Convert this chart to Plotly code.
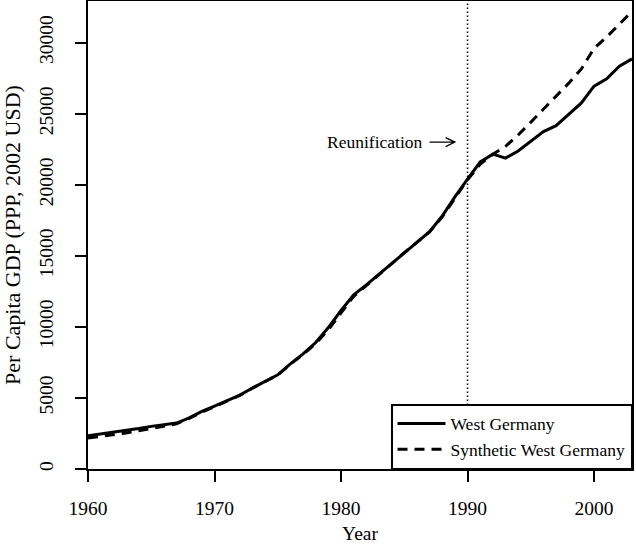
import plotly.graph_objects as go

# GDP per capita, West Germany vs. synthetic control
years = list(range(1960, 2004))

west_germany = [
    2340, 2460, 2580, 2700, 2850, 3000, 3130, 3235, 3600, 4050,
    4420, 4800, 5200, 5700, 6150, 6630, 7400, 8100, 8900, 9950,
    11150, 12250, 12950, 13700, 14450, 15250, 15980, 16700, 17800, 19150,
    20400, 21602, 22154, 21878, 22371, 23035, 23742, 24156, 24931, 25755,
    26943, 27449, 28348, 28855,
]

synthetic_west_germany = [
    2180, 2290, 2420, 2540, 2690, 2850, 3010, 3180, 3560, 4010,
    4380, 4780, 5180, 5690, 6130, 6610, 7380, 8060, 8830, 9800,
    10980, 12150, 12900, 13680, 14430, 15220, 15950, 16680, 17750, 19080,
    20350, 21450, 22150, 22700, 23500, 24400, 25300, 26200, 27150, 28150,
    29600, 30400, 31300, 32200,
]

x_ticks = [1960, 1970, 1980, 1990, 2000]
y_ticks = [0, 5000, 10000, 15000, 20000, 25000, 30000]
y_tick_labels = [str(v) for v in y_ticks]

reunification_year = 1990
FONT = "Liberation Serif"

fig = go.Figure()

fig.add_trace(go.Scatter(
    x=years, y=west_germany,
    mode="lines", name="West Germany",
    line=dict(color="black", width=3),
))
fig.add_trace(go.Scatter(
    x=years, y=synthetic_west_germany,
    mode="lines", name="Synthetic West Germany",
    line=dict(color="black", width=3, dash="10px,7px"),
))

# dotted line at reunification
fig.add_shape(
    type="line", xref="x", yref="paper",
    x0=reunification_year, x1=reunification_year, y0=0, y1=1,
    line=dict(color="black", width=1.5, dash="1.5px,2.5px"),
)

# open arrow pointing at the dotted line
fig.add_shape(
    type="path", xref="x", yref="y",
    path="M 1987,23000 L 1989,23000 M 1988.27,23320 L 1989,23000 L 1988.27,22680",
    line=dict(color="black", width=1.3),
)
fig.add_annotation(
    x=1982.7, y=23000, xref="x", yref="y",
    text="Reunification", showarrow=False,
    xanchor="center", yanchor="middle",
    font=dict(family=FONT, size=17.5, color="black"),
)

axis_style = dict(
    showline=True, linecolor="black", linewidth=1.5, mirror=True,
    showgrid=False, zeroline=False, automargin=False,
    ticks="outside", ticklen=11, tickwidth=1.5, tickcolor="black",
    tickfont=dict(family=FONT, size=19.5, color="black"),
)

fig.update_layout(
    width=636, height=550,
    margin=dict(l=88, r=4, t=1, b=81),
    paper_bgcolor="white", plot_bgcolor="white",
    font=dict(family=FONT, color="black"),
    xaxis=dict(
        range=[1960, 2003], tickvals=x_ticks,
        ticklabelstandoff=10,
        title=dict(text="Year", font=dict(family=FONT, size=19.5), standoff=8),
        **axis_style,
    ),
    yaxis=dict(
        range=[0, 32930], tickvals=y_ticks, ticktext=y_tick_labels,
        tickangle=-90, ticklabelstandoff=14,
        title=dict(text="Per Capita GDP (PPP, 2002 USD)",
                   font=dict(family=FONT, size=22), standoff=14),
        **axis_style,
    ),
    legend=dict(
        x=1, y=0, xanchor="right", yanchor="bottom",
        bgcolor="white", bordercolor="black", borderwidth=1.5,
        font=dict(family=FONT, size=17.5, color="black"),
        tracegroupgap=0, itemwidth=48,
    ),
)

fig.write_html(
    "out.html",
    config={"displayModeBar": False},
    post_script="document.body.style.margin='0';",
)
